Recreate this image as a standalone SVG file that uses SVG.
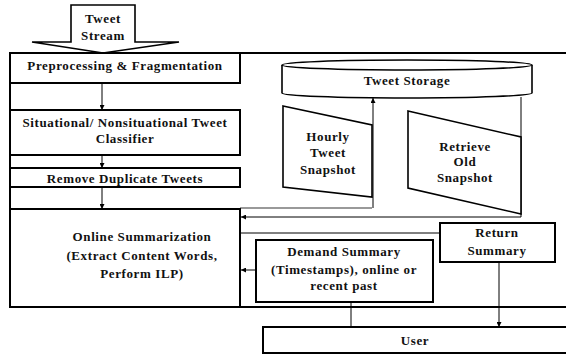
<svg xmlns="http://www.w3.org/2000/svg" width="566" height="354" viewBox="0 0 566 354">
<defs>
<marker id="ah" viewBox="0 0 10 10" refX="10" refY="5" markerWidth="5" markerHeight="5" orient="auto" markerUnits="userSpaceOnUse">
<path d="M0,0 L10,5 L0,10 z" fill="#000"/>
</marker>
<style>
.box{fill:#fff;stroke:#000;stroke-width:2}
.shape{fill:#fff;stroke:#000;stroke-width:1.6}
.t{font-family:"Liberation Serif","Times New Roman",serif;font-weight:bold;font-size:13px;letter-spacing:0.6px;fill:#111;text-anchor:middle}
.c{fill:none;stroke:#000;stroke-width:1}
.g{fill:none;stroke:#999;stroke-width:2}
.frame{fill:none;stroke:#000;stroke-width:2}
</style>
</defs>
<rect width="566" height="354" fill="#fff"/>
<g id="frame">
<path class="frame" d="M566,53 L10,53 L10,307 L566,307"/>
</g>
<g id="connectors">
<line class="c" x1="102" y1="83" x2="102" y2="110" marker-end="url(#ah)"/>
<line class="c" x1="102" y1="155" x2="102" y2="168" marker-end="url(#ah)"/>
<line class="c" x1="102" y1="187" x2="102" y2="209" marker-end="url(#ah)"/>
<path class="g" d="M240,208 L372,208"/>
<line class="c" x1="373" y1="208" x2="373" y2="98" marker-end="url(#ah)"/>
<path class="c" d="M521,97 L521,217 L241,217" marker-end="url(#ah)"/>
<line class="c" x1="240" y1="233" x2="440" y2="233" stroke-width="1.5"/>
<line class="c" x1="256" y1="270" x2="241" y2="270" marker-end="url(#ah)"/>
<line class="c" x1="351" y1="302" x2="351" y2="327"/>
<line class="c" x1="499" y1="262" x2="499" y2="327" marker-end="url(#ah)"/>
</g>
<g id="tweet-stream">
<path class="shape" d="M71,5 L135,5 L135,42 L179,42 L103,53 L32,42 L71,42 Z"/>
<text class="t" x="103" y="23">Tweet</text>
<text class="t" x="103" y="40">Stream</text>
</g>
<g id="preprocessing">
<rect class="box" x="10" y="53" width="230" height="30"/>
<text class="t" x="125" y="70">Preprocessing &amp; Fragmentation</text>
</g>
<g id="classifier">
<rect class="box" x="10" y="110" width="230" height="45"/>
<text class="t" x="125" y="127">Situational/ Nonsituational Tweet</text>
<text class="t" x="125" y="143">Classifier</text>
</g>
<g id="remove-duplicates">
<rect class="box" x="10" y="168" width="230" height="19"/>
<text class="t" x="125" y="183">Remove Duplicate Tweets</text>
</g>
<g id="online-summarization">
<rect class="box" x="10" y="209" width="230" height="98"/>
<text class="t" x="142" y="241">Online Summarization</text>
<text class="t" x="142" y="260">(Extract Content Words,</text>
<text class="t" x="142" y="278">Perform ILP)</text>
</g>
<g id="tweet-storage">
<path class="shape" d="M282,65 L282,93 A125,5 0 0 0 532,93 L532,65"/>
<ellipse class="shape" cx="407" cy="65" rx="125" ry="5"/>
<text class="t" x="407" y="85">Tweet Storage</text>
</g>
<g id="hourly-snapshot">
<path class="shape" d="M283,106 L372,125 L372,197 L283,187 Z"/>
<text class="t" x="328" y="141">Hourly</text>
<text class="t" x="328" y="157">Tweet</text>
<text class="t" x="328" y="174">Snapshot</text>
</g>
<g id="retrieve-snapshot">
<path class="shape" d="M408,111 L521,137 L521,214 L408,188 Z"/>
<text class="t" x="465" y="151">Retrieve</text>
<text class="t" x="465" y="166">Old</text>
<text class="t" x="465" y="182">Snapshot</text>
</g>
<g id="return-summary">
<rect class="box" x="440" y="223" width="115" height="39"/>
<text class="t" x="497" y="237">Return</text>
<text class="t" x="497" y="255">Summary</text>
</g>
<g id="demand-summary">
<rect class="box" x="256" y="240" width="177" height="62"/>
<text class="t" x="344" y="256">Demand Summary</text>
<text class="t" x="344" y="274">(Timestamps), online or</text>
<text class="t" x="344" y="290">recent past</text>
</g>
<g id="user">
<rect class="box" x="263" y="327" width="310" height="26"/>
<text class="t" x="415" y="345">User</text>
</g>
</svg>
